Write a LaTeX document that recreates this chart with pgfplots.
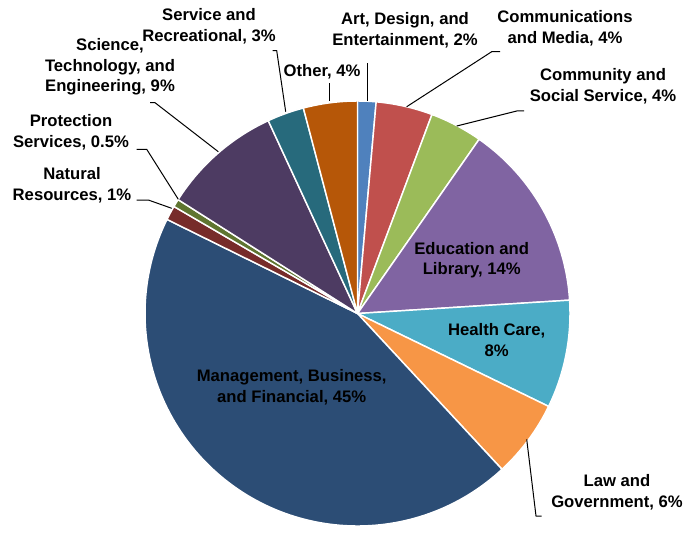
\documentclass[border=0pt]{standalone}
\usepackage{fontspec}
\setmainfont{Liberation Sans}
\usepackage{pgfplots}
\usepackage{pgfplotstable}
\pgfplotsset{compat=1.18}

\definecolor{artc}{HTML}{4F81BD}
\definecolor{commc}{HTML}{C0504D}
\definecolor{socc}{HTML}{9BBB59}
\definecolor{educ}{HTML}{8064A2}
\definecolor{healthc}{HTML}{4BACC6}
\definecolor{lawc}{HTML}{F79646}
\definecolor{mgmtc}{HTML}{2C4D75}
\definecolor{natc}{HTML}{772C2A}
\definecolor{protc}{HTML}{5F7530}
\definecolor{scic}{HTML}{4D3B62}
\definecolor{servc}{HTML}{276A7C}
\definecolor{otherc}{HTML}{B65708}

% slices clockwise from 12 o'clock
\pgfplotstableread{
name value col
Art 1.4 artc
Communications 4.3 commc
Community 4.0 socc
Education 14.3 educ
Health 8.2 healthc
Law 5.9 lawc
Management 44.2 mgmtc
Natural 1.1 natc
Protection 0.6 protc
Science 9.1 scic
Service 2.8 servc
Other 4.1 otherc
}\piedata

\begin{document}
\begin{tikzpicture}[lbl/.style={align=center, font=\bfseries\fontsize{12.5}{15.4}\selectfont, text=black},
  lead/.style={black, line width=0.75pt}]
\begin{axis}[
    x=0.75pt, y=0.75pt,
    xmin=0, xmax=691, ymin=0, ymax=528,
    y dir=reverse,
    hide axis, clip=false,
    scale only axis,
]
\addplot[draw=none] coordinates {(0,0) (691,528)};

\def\cum{0}
\pgfplotsforeachungrouped \i in {0,...,11} {
  \pgfplotstablegetelem{\i}{value}\of\piedata \let\sv\pgfplotsretval
  \pgfplotstablegetelem{\i}{col}\of\piedata \let\scol\pgfplotsretval
  \pgfmathsetmacro\sa{90-3.6*\cum}
  \pgfmathsetmacro\sb{90-3.6*(\cum+\sv)}
  \edef\doit{\noexpand\fill[\scol, draw=white, line width=1.1pt, line join=round]
    (axis cs:357.5,313.5) -- ++(\sa:159.375pt)
    arc[start angle=\sa, end angle=\sb, radius=159.375pt] -- cycle;}
  \doit
  \pgfmathsetmacro\cum{\cum+\sv}
}

% inside labels
\node[lbl] at (axis cs:471.7,260) {Education and\\Library, 14\%};
\node[lbl] at (axis cs:496.7,340) {Health Care,\\8\%};
\node[lbl] at (axis cs:291.7,387) {Management, Business,\\and Financial, 45\%};

% leader lines
\draw[lead] (axis cs:367,101) -- (axis cs:367,63);
\draw[lead] (axis cs:329,101) -- (axis cs:329,83);
\draw[lead] (axis cs:285.7,111.7) -- (axis cs:276.7,50.7) -- (axis cs:272.7,50.7);
\draw[lead] (axis cs:406.7,106.7) -- (axis cs:491.7,51.7) -- (axis cs:500,51.7);
\draw[lead] (axis cs:456.7,126) -- (axis cs:516.7,111) -- (axis cs:524,111);
\draw[lead] (axis cs:218.3,151.7) -- (axis cs:155,102.7) -- (axis cs:150,102.7);
\draw[lead] (axis cs:178.3,199.3) -- (axis cs:146.7,149.3) -- (axis cs:136.7,149.3);
\draw[lead] (axis cs:171.7,208.3) -- (axis cs:148.3,200) -- (axis cs:136.7,200);
\draw[lead] (axis cs:526.7,439.3) -- (axis cs:536,516) -- (axis cs:541.7,516);

% outside labels
\node[lbl] at (axis cs:209,26) {Service and\\Recreational, 3\%};
\node[lbl] at (axis cs:405,30) {Art, Design, and\\Entertainment, 2\%};
\node[lbl] at (axis cs:322,72) {Other, 4\%};
\node[lbl] at (axis cs:565,28) {Communications\\and Media, 4\%};
\node[lbl] at (axis cs:603,86) {Community and\\Social Service, 4\%};
\node[lbl] at (axis cs:110,67) {Science,\\Technology, and\\Engineering, 9\%};
\node[lbl] at (axis cs:71,132) {Protection\\Services, 0.5\%};
\node[lbl] at (axis cs:72,185) {Natural\\Resources, 1\%};
\node[lbl] at (axis cs:617,492) {Law and\\Government, 6\%};
\end{axis}
\end{tikzpicture}
\end{document}
